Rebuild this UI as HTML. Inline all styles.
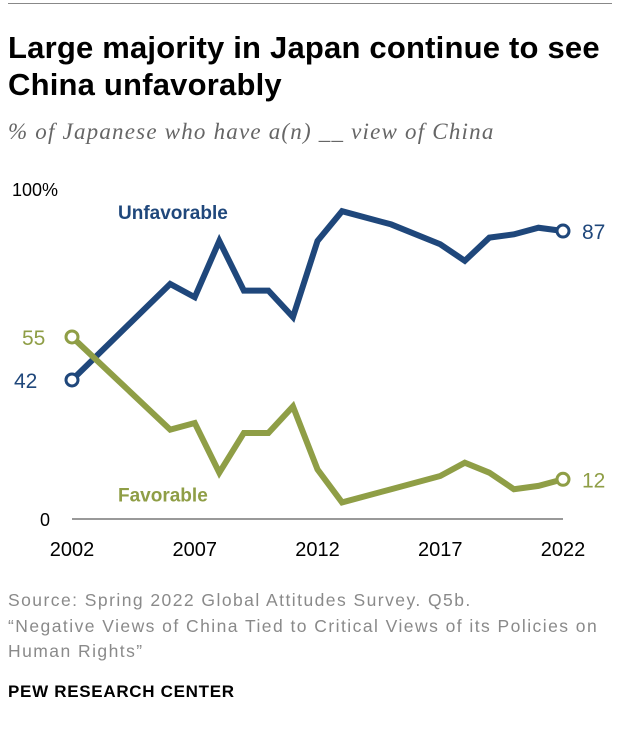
<!DOCTYPE html>
<html><head><meta charset="utf-8"><style>
body{margin:0;width:620px;height:740px;background:#fff;font-family:"Liberation Sans",sans-serif;position:relative;overflow:hidden}
.t{position:absolute;margin:0}
</style></head><body>
<div class="t" style="left:8px;top:3px;width:604px;height:1px;background:#888"></div>
<h1 class="t" style="left:8px;top:29px;font-size:31px;line-height:37px;font-weight:bold;color:#000;letter-spacing:0.2px">Large majority in Japan continue to see<br>China unfavorably</h1>
<div class="t" style="left:8px;top:119px;font-family:'Liberation Serif',serif;font-size:23px;font-style:italic;color:#666;letter-spacing:1.2px">% of Japanese who have a(n) __ view of China</div>
<svg id="chart" width="620" height="420" style="position:absolute;left:0;top:160px"></svg>
<div class="t" style="left:8px;top:588px;font-size:17.5px;line-height:25.5px;color:#8a8a8a;letter-spacing:1.45px">Source: Spring 2022 Global Attitudes Survey. Q5b.<br>“Negative Views of China Tied to Critical Views of its Policies on<br>Human Rights”</div>
<div class="t" style="left:8px;top:682px;font-size:17px;font-weight:bold;color:#000;letter-spacing:0.7px">PEW RESEARCH CENTER</div>
<script>
const years=[2002,2006,2007,2008,2009,2010,2011,2012,2013,2015,2017,2018,2019,2020,2021,2022];
const unfav=[42,71,67,84,69,69,61,84,93,89,83,78,85,86,88,87];
const fav=[55,27,29,14,26,26,34,15,5,9,13,17,14,9,10,12];
const xTicks=[2002,2007,2012,2017,2022];
const svg=document.getElementById('chart');const NS='http://www.w3.org/2000/svg';
const OY=160;
const x=y=>72+(y-2002)*(563-72)/20;
const yv=v=>519-OY-v*3.31;
function el(t,a,p){const e=document.createElementNS(NS,t);for(const k in a)e.setAttribute(k,a[k]);(p||svg).appendChild(e);return e;}
let b=el('line',{x1:72,x2:563,y1:yv(0),y2:yv(0),stroke:'#999','stroke-width':2});


function txt(s,xx,yy,o){const e=el('text',Object.assign({x:xx,y:yy,'font-family':'Liberation Sans, sans-serif'},o));e.textContent=s;return e;}
let t=txt('100%',12,yv(100)+8,{'font-size':18,fill:'#000'});


t=txt('0',40,yv(0)+7,{'font-size':18,fill:'#000'});


xTicks.forEach(y=>{const e=txt(String(y),x(y),yv(0)+37,{'font-size':20,fill:'#000','text-anchor':'middle'});

});
function series(vals,color,name){
 const p=el('polyline',{points:years.map((y,i)=>x(y)+','+yv(vals[i])).join(' '),fill:'none',stroke:color,'stroke-width':6,'stroke-linejoin':'miter'});
 
 
 [0,years.length-1].forEach(i=>{const c=el('circle',{cx:x(years[i]),cy:yv(vals[i]),r:6,fill:'#fff',stroke:color,'stroke-width':3});
 
 });
}
series(unfav,'#1f477b','unfavorable');
series(fav,'#8f9e46','favorable');
t=txt(String(unfav[0]),14,yv(unfav[0])+8,{'font-size':21,fill:'#1f477b'});
t=txt(String(unfav[unfav.length-1]),582,yv(unfav[unfav.length-1])+8,{'font-size':21,fill:'#1f477b'});
t=txt(String(fav[0]),22,yv(fav[0])+8,{'font-size':21,fill:'#8f9e46'});
t=txt(String(fav[fav.length-1]),582,yv(fav[fav.length-1])+8,{'font-size':21,fill:'#8f9e46'});
t=txt('Unfavorable',118,yv(90)-2,{'font-size':19,'font-weight':'bold',fill:'#1f477b'});
t=txt('Favorable',118,yv(5)-1,{'font-size':19,'font-weight':'bold',fill:'#8f9e46'});
</script>
</body></html>
